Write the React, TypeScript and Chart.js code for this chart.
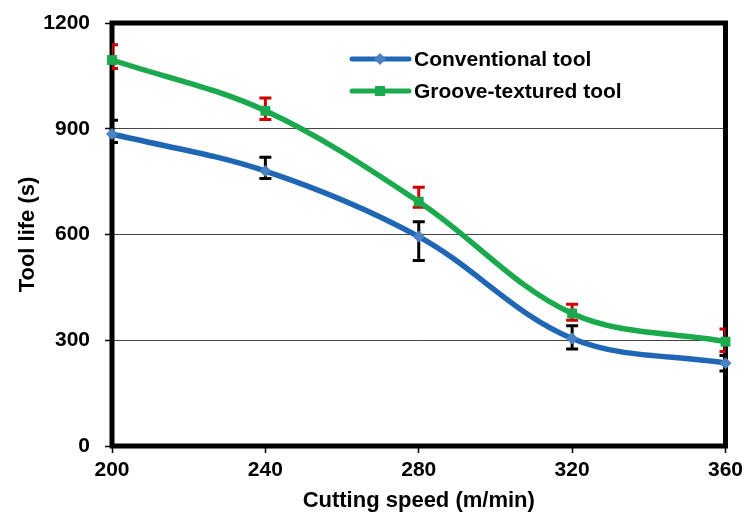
import React, { useEffect, useRef } from "react";
import { Chart, registerables } from "chart.js";
Chart.register(...registerables);

const cuttingSpeeds = [200, 240, 280, 320, 360];
const conventionalLife = [885, 780, 594, 305, 235];
const conventionalErrPlus = [39, 39, 42, 36, 22];
const conventionalErrMinus = [24, 21, 68, 30, 22];
const grooveLife = [1095, 951, 693, 376, 296];
const grooveErrPlus = [43, 36, 41, 26, 36];
const grooveErrMinus = [24, 25, 16, 19, 28];
const xTicks = [200, 240, 280, 320, 360];
const yTicks = [0, 300, 600, 900, 1200];
const seriesNames = ["Conventional tool", "Groove-textured tool"];
const xTitle = "Cutting speed (m/min)";
const yTitle = "Tool life (s)";

const FONT = '"Liberation Sans", Arial, Helvetica, sans-serif';
const BLUE = "#1f67b4";
const BLUE_MARK = "#4a82c4";
const GREEN = "#1aa94c";

const frameAndErrors = {
  id: "frameAndErrors",
  beforeDatasetsDraw(chart: any) {
    const { ctx, chartArea } = chart;
    const { left, right, top, bottom } = chartArea;
    ctx.save();
    ctx.strokeStyle = "#000";
    ctx.lineWidth = 5;
    ctx.strokeRect(left, top, right - left, bottom - top);
    ctx.restore();

    const xs = chart.scales.x;
    const ys = chart.scales.y;
    ctx.save();
    ctx.beginPath();
    ctx.rect(left, top - 20, right - left, bottom - top + 20);
    ctx.clip();
    chart.data.datasets.forEach((ds: any) => {
      ctx.strokeStyle = ds.errColor;
      ctx.lineWidth = 3;
      ds.values.forEach((v: number, i: number) => {
        const x = xs.getPixelForValue(cuttingSpeeds[i]);
        const yT = ys.getPixelForValue(v + ds.errPlus[i]);
        const yB = ys.getPixelForValue(v - ds.errMinus[i]);
        const cap = 6;
        ctx.beginPath();
        ctx.moveTo(x, yT);
        ctx.lineTo(x, yB);
        ctx.moveTo(x - cap, yT);
        ctx.lineTo(x + cap, yT);
        ctx.moveTo(x - cap, yB);
        ctx.lineTo(x + cap, yB);
        ctx.stroke();
      });
    });
    ctx.restore();
  },
  afterDraw(chart: any) {
    const { ctx } = chart;
    const items = [
      { y: 59, color: BLUE, mark: BLUE_MARK, shape: "diamond" },
      { y: 91, color: GREEN, mark: GREEN, shape: "square" },
    ];
    ctx.save();
    items.forEach((it, k) => {
      ctx.strokeStyle = it.color;
      ctx.lineWidth = 5;
      ctx.lineCap = "round";
      ctx.beginPath();
      ctx.moveTo(352, it.y);
      ctx.lineTo(409, it.y);
      ctx.stroke();
      ctx.fillStyle = it.mark;
      if (it.shape === "diamond") {
        ctx.beginPath();
        ctx.moveTo(380, it.y - 6);
        ctx.lineTo(386, it.y);
        ctx.lineTo(380, it.y + 6);
        ctx.lineTo(374, it.y);
        ctx.closePath();
        ctx.fill();
      } else {
        ctx.fillRect(375, it.y - 5, 10, 10);
      }
      ctx.fillStyle = "#000";
      ctx.font = `bold 21px ${FONT}`;
      ctx.textBaseline = "middle";
      ctx.textAlign = "left";
      ctx.fillText(seriesNames[k], 414, it.y + 1);
    });
    ctx.restore();
  },
};

export default function App() {
  const ref = useRef<HTMLCanvasElement | null>(null);
  useEffect(() => {
    document.body.style.margin = "0";
    const chart = new Chart(ref.current as HTMLCanvasElement, {
      type: "line",
      data: {
        datasets: [
          {
            label: seriesNames[0],
            data: conventionalLife.map((v, i) => ({ x: cuttingSpeeds[i], y: v })),
            values: conventionalLife,
            borderColor: BLUE,
            backgroundColor: BLUE_MARK,
            borderWidth: 5.5,
            tension: 0.35,
            pointStyle: "rectRot",
            pointRadius: 6,
            pointBorderWidth: 0,
            clip: false,
            errPlus: conventionalErrPlus,
            errMinus: conventionalErrMinus,
            errColor: "#000",
          },
          {
            label: seriesNames[1],
            data: grooveLife.map((v, i) => ({ x: cuttingSpeeds[i], y: v })),
            values: grooveLife,
            borderColor: GREEN,
            backgroundColor: GREEN,
            borderWidth: 5.5,
            tension: 0.35,
            pointStyle: "rect",
            pointRadius: 7,
            pointBorderWidth: 0,
            clip: false,
            errPlus: grooveErrPlus,
            errMinus: grooveErrMinus,
            errColor: "#d00000",
          },
        ],
      },
      options: {
        animation: false,
        responsive: false,
        layout: { padding: { top: 23, right: 19.5, left: 0, bottom: 0 } },
        plugins: { legend: { display: false }, tooltip: { enabled: false } },
        scales: {
          x: {
            type: "linear",
            min: 200,
            max: 360,
            afterBuildTicks: (s: any) => {
              s.ticks = xTicks.map((v) => ({ value: v }));
            },
            afterFit: (s: any) => {
              s.height = 72;
              s.paddingLeft = 0;
              s.paddingRight = 0;
            },
            grid: {
              drawOnChartArea: false,
              drawTicks: true,
              tickLength: 7,
              tickColor: "#000",
              tickWidth: 1.5,
            },
            border: { display: false },
            ticks: {
              color: "#000",
              font: { family: FONT, size: 21, weight: "bold" },
              padding: 5,
              maxRotation: 0,
              autoSkip: false,
              callback: (v: any) => String(v),
            },
            title: {
              display: true,
              text: xTitle,
              color: "#000",
              font: { family: FONT, size: 22, weight: "bold" },
              padding: { top: 0, bottom: 4 },
            },
          },
          y: {
            type: "linear",
            min: 0,
            max: 1200,
            afterBuildTicks: (s: any) => {
              s.ticks = yTicks.map((v) => ({ value: v }));
            },
            afterFit: (s: any) => {
              s.width = 112;
              s.paddingTop = 0;
              s.paddingBottom = 0;
            },
            grid: {
              color: "#444",
              lineWidth: 1,
              drawTicks: true,
              tickLength: 7,
              tickColor: "#000",
              tickWidth: 1.5,
            },
            border: { display: false },
            ticks: {
              color: "#000",
              font: { family: FONT, size: 21, weight: "bold" },
              padding: 15,
              callback: (v: any) => String(v),
            },
            title: {
              display: true,
              text: yTitle,
              color: "#000",
              font: { family: FONT, size: 22, weight: "bold" },
              padding: { top: 15, bottom: 0 },
            },
          },
        },
      },
      plugins: [frameAndErrors],
    } as any);
    return () => chart.destroy();
  }, []);
  return (
    <div style={{ position: "absolute", left: 0, top: 0, width: 745, height: 518 }}>
      <canvas ref={ref} width={745} height={518} style={{ width: 745, height: 518 }} />
    </div>
  );
}
